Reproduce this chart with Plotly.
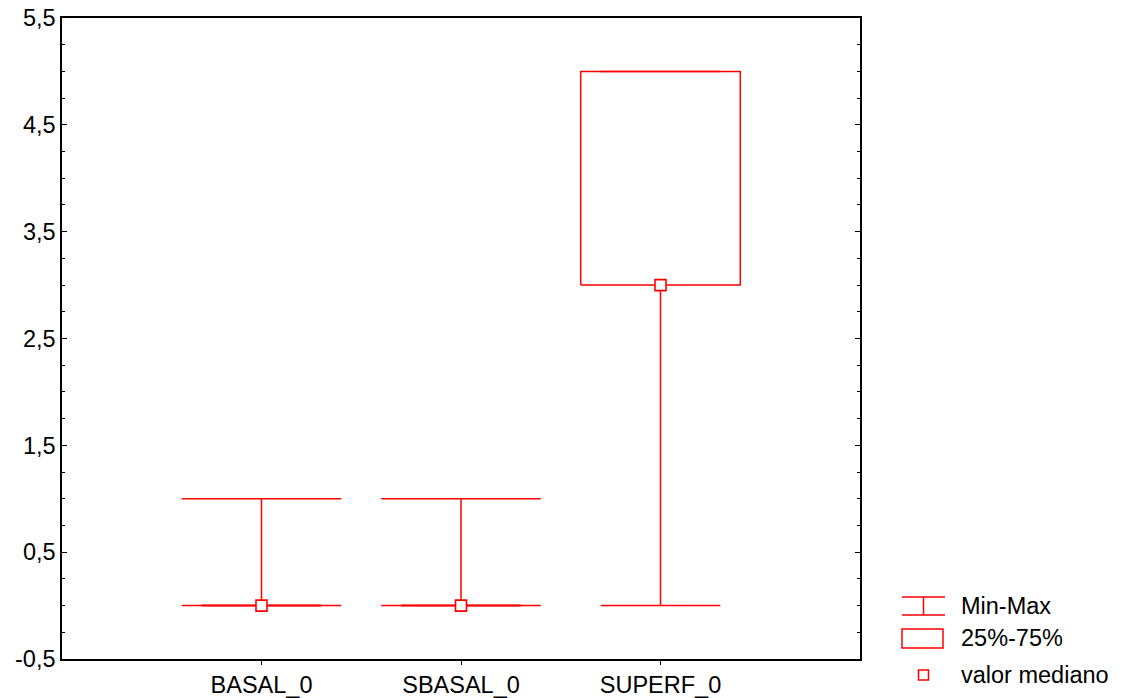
import plotly.graph_objects as go

categories = ["BASAL_0", "SBASAL_0", "SUPERF_0"]
mins = [0, 0, 0]
q1 = [0, 0, 3]
medians = [0, 0, 3]
q3 = [0, 0, 5]
maxs = [1, 1, 5]

y_ticks = [-0.5, 0.5, 1.5, 2.5, 3.5, 4.5, 5.5]
y_ticktext = ["-0,5", "0,5", "1,5", "2,5", "3,5", "4,5", "5,5"]

legend_labels = ["Min-Max", "25%-75%", "valor mediano"]

RED = "#FF0000"
FONT = "Liberation Sans, Arial, sans-serif"
FS = 23.5
LW = 1.5

fig = go.Figure()

for i, cat in enumerate(categories):
    degenerate = q1[i] == q3[i]
    cap_w = 0.4 if degenerate else 0.3
    box_w = 0.3 if degenerate else 0.4
    fig.add_trace(go.Scatter(x=[i, i, None, i, i], y=[q3[i], maxs[i], None, mins[i], q1[i]],
                             mode="lines", line=dict(color=RED, width=LW),
                             showlegend=False, hoverinfo="skip"))
    fig.add_trace(go.Scatter(x=[i - cap_w, i + cap_w, None, i - cap_w, i + cap_w],
                             y=[maxs[i], maxs[i], None, mins[i], mins[i]],
                             mode="lines", line=dict(color=RED, width=LW),
                             showlegend=False, hoverinfo="skip"))
    fig.add_trace(go.Scatter(x=[i - box_w, i + box_w, i + box_w, i - box_w, i - box_w],
                             y=[q1[i], q1[i], q3[i], q3[i], q1[i]],
                             mode="lines", line=dict(color=RED, width=2 if degenerate else LW),
                             showlegend=False, hoverinfo="skip"))

fig.add_trace(go.Scatter(x=list(range(len(categories))), y=medians, mode="markers",
                         marker=dict(symbol="square", size=11, color="white",
                                     line=dict(color=RED, width=1.6)),
                         showlegend=False, hoverinfo="skip"))

def px_x(px):
    return (px - 62) / 798

def px_y(py):
    return (659 - py) / 641

shapes = []
shapes.append(dict(type="line", xref="paper", yref="paper", x0=px_x(902), x1=px_x(945), y0=px_y(597), y1=px_y(597), line=dict(color=RED, width=LW)))
shapes.append(dict(type="line", xref="paper", yref="paper", x0=px_x(902), x1=px_x(945), y0=px_y(615), y1=px_y(615), line=dict(color=RED, width=LW)))
shapes.append(dict(type="line", xref="paper", yref="paper", x0=px_x(923.5), x1=px_x(923.5), y0=px_y(597), y1=px_y(615), line=dict(color=RED, width=LW)))
shapes.append(dict(type="rect", xref="paper", yref="paper", x0=px_x(902), x1=px_x(943), y0=px_y(629), y1=px_y(648), line=dict(color=RED, width=LW)))
shapes.append(dict(type="rect", xref="paper", yref="paper", x0=px_x(918.5), x1=px_x(928.5), y0=px_y(670), y1=px_y(680), line=dict(color=RED, width=LW)))

annotations = []
for lbl, py in zip(legend_labels, [606, 638, 675]):
    annotations.append(dict(text=lbl, xref="paper", yref="paper", x=px_x(959), y=px_y(py),
                            xanchor="left", yanchor="middle", showarrow=False,
                            font=dict(family=FONT, size=FS, color="black")))

fig.update_layout(
    width=1123, height=698,
    margin=dict(l=62, r=263, t=18, b=39),
    plot_bgcolor="white", paper_bgcolor="white",
    font=dict(family=FONT, size=FS, color="black"),
    showlegend=False,
    shapes=shapes,
    annotations=annotations,
    xaxis=dict(range=[-1, 3], tickvals=list(range(len(categories))), ticktext=categories,
               showgrid=False, zeroline=False, showline=True, linecolor="black", linewidth=1.5,
               mirror=True, ticks="outside", ticklen=4, tickcolor="black", automargin=False),
    yaxis=dict(range=[-0.5, 5.5], tickvals=y_ticks, ticktext=y_ticktext,
               showgrid=False, zeroline=False, showline=True, linecolor="black", linewidth=1.5,
               mirror="allticks", ticks="inside", ticklen=5, tickcolor="black", automargin=False,
               minor=dict(dtick=0.25, tick0=-0.5, ticks="inside", ticklen=3, tickcolor="black", showgrid=False)),
)

fig.write_html("out.html", config={"displayModeBar": False},
               post_script="document.body.style.margin='0';document.body.style.overflow='hidden';")
